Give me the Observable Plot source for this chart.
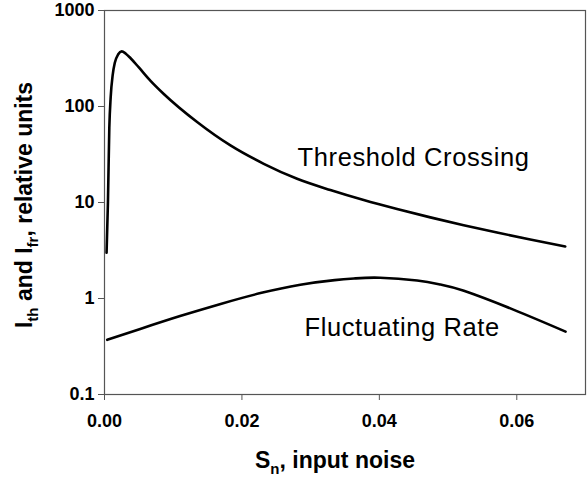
<!DOCTYPE html>
<html>
<head>
<meta charset="utf-8">
<script src="https://cdn.jsdelivr.net/npm/d3@7"></script>
<script src="https://cdn.jsdelivr.net/npm/@observablehq/plot@0.6"></script>
<style>
  html, body { margin: 0; padding: 0; background: #fff; }
</style>
</head>
<body>
<div id="chart"></div>
<script>
// Threshold Crossing series
const thresholdX = [0.0003, 0.0005, 0.0007, 0.0009, 0.0012, 0.0015, 0.0020, 0.0025, 0.0031, 0.0038, 0.0050, 0.0067, 0.00863, 0.01348, 0.01833, 0.02318, 0.02803, 0.03287, 0.03772, 0.04258, 0.04742, 0.05227, 0.05712, 0.06196, 0.06705];
const thresholdY = [3.0, 10, 60, 125, 215, 285, 350, 375, 355, 318, 255, 185, 135, 68.9, 39.3, 25.3, 17.66, 13.47, 10.59, 8.54, 7.00, 5.80, 4.87, 4.12, 3.48];

// Fluctuating Rate series
const fluctX = [0.0004, 0.0052, 0.0110, 0.0169, 0.0227, 0.0285, 0.0335, 0.0365, 0.0401, 0.0455, 0.0489, 0.0523, 0.0595, 0.0671];
const fluctY = [0.371, 0.482, 0.656, 0.878, 1.138, 1.392, 1.555, 1.620, 1.645, 1.537, 1.399, 1.203, 0.766, 0.452];

// Axis ticks
const xTicks = [0, 0.02, 0.04, 0.06];
const yTicks = [0.1, 1, 10, 100, 1000];
const xDomain = [0, 0.07];
const yDomain = [0.1, 1000];

// Annotations
const labelNames = ["Threshold Crossing", "Fluctuating Rate"];
const labelX = [0.0281, 0.0291];
const labelY = [29.5, 0.499];

const threshold = thresholdX.map((x, i) => ({x, y: thresholdY[i]}));
const fluct = fluctX.map((x, i) => ({x, y: fluctY[i]}));
const labels = labelNames.map((t, i) => ({t, x: labelX[i], y: labelY[i]}));

const font = "'Liberation Sans', Arial, Helvetica, sans-serif";

const svg = Plot.plot({
  width: 588,
  height: 480,
  marginLeft: 104,
  marginRight: 3,
  marginTop: 10,
  marginBottom: 86,
  style: {fontFamily: font, background: "#fff", color: "#000"},
  x: {domain: xDomain},
  y: {type: "log", domain: yDomain},
  marks: [
    Plot.frame({stroke: "#555", strokeWidth: 1.2}),
    Plot.axisX({ticks: xTicks, tickFormat: d3.format(".2f"), tickSize: 6, tickPadding: 14,
      fontSize: 18, fontWeight: "bold", stroke: "#555", fill: "#000", label: null}),
    Plot.axisY({ticks: yTicks, tickFormat: d => String(d), tickSize: 6, tickPadding: 4,
      fontSize: 18, fontWeight: "bold", stroke: "#555", fill: "#000", label: null}),
    Plot.line(threshold, {x: "x", y: "y", stroke: "#000", strokeWidth: 2.6, curve: "monotone-x"}),
    Plot.line(fluct, {x: "x", y: "y", stroke: "#000", strokeWidth: 2.6, curve: "natural"}),
    Plot.text(labels, {x: "x", y: "y", text: "t", textAnchor: "start", fontSize: 25.5, fill: "#000"})
  ]
});

const sel = d3.select(svg);

sel.selectAll("text")
  .filter(function() { return labelNames.includes(this.textContent); })
  .style("letter-spacing", "0.6px");

// X axis title with subscript
const xt = sel.append("text")
  .attr("x", 335).attr("y", 468)
  .attr("text-anchor", "middle")
  .attr("font-family", font).attr("font-weight", "bold").attr("font-size", 23).attr("fill", "#000");
xt.append("tspan").text("S");
xt.append("tspan").attr("font-size", 15).attr("dy", 6).text("n");
xt.append("tspan").attr("dy", -6).text(", input noise");

// Y axis title with subscripts
const yt = sel.append("text")
  .attr("transform", "translate(32,205) rotate(-90)")
  .attr("text-anchor", "middle")
  .attr("font-family", font).attr("font-weight", "bold").attr("font-size", 23).attr("fill", "#000");
yt.append("tspan").text("I");
yt.append("tspan").attr("font-size", 15).attr("dy", 6).text("th");
yt.append("tspan").attr("dy", -6).text(" and I");
yt.append("tspan").attr("font-size", 15).attr("dy", 6).text("fr");
yt.append("tspan").attr("dy", -6).text(", relative units");

document.getElementById("chart").appendChild(svg);
</script>
</body>
</html>
